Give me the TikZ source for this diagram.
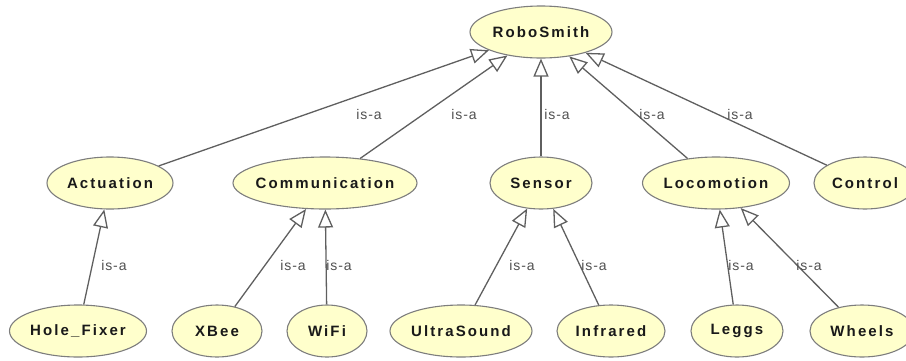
\documentclass[tikz,border=0pt]{standalone}
\usepackage{fontspec}
\setmainfont{Liberation Sans}
\newfontfamily\classfont[LetterSpace=14]{Liberation Sans Bold}
\newfontfamily\relfont[LetterSpace=6]{Liberation Sans}
\usetikzlibrary{shapes.geometric,arrows.meta}
\definecolor{classfill}{RGB}{255,255,204}
\definecolor{classline}{RGB}{125,125,125}
\definecolor{edgeline}{RGB}{95,95,95}
\definecolor{reltext}{RGB}{80,80,80}
\tikzset{
  cls/.style={ellipse, draw=classline, fill=classfill, line width=1.1pt,
    inner sep=0pt, minimum height=52pt},
  ctext/.style={font=\classfont\fontsize{15}{16}\selectfont, text=black!90},
  isa/.style={draw=edgeline, line width=1.3pt,
    -{Triangle[open, length=18pt, width=15pt, line width=1.3pt]}},
  rel/.style={font=\relfont\fontsize{14}{15}\selectfont, text=reltext, inner sep=0pt}
}
\begin{document}
\begin{tikzpicture}[x=1pt, y=-1pt]
\useasboundingbox (0,0) rectangle (906,360);
\begin{scope}
\clip (0,0) rectangle (906,360);
% classes
\node[cls, minimum width=142pt, label={[ctext]center:RoboSmith}] (robo) at (541,32) {};
\node[cls, minimum width=126pt, label={[ctext]center:Actuation}] (act) at (110,183) {};
\node[cls, minimum width=184pt, label={[ctext]center:Communication}] (comm) at (325,183) {};
\node[cls, minimum width=102pt, label={[ctext]center:Sensor}] (sens) at (541,183) {};
\node[cls, minimum width=147pt, label={[ctext]center:Locomotion}] (loco) at (716,183) {};
\node[cls, minimum width=102pt, label={[ctext]center:Control}] (ctrl) at (865,183) {};
\node[cls, minimum width=137pt, label={[ctext]center:Hole\_Fixer}] (hole) at (78,331) {};
\node[cls, minimum width=90pt, label={[ctext]center:XBee}] (xbee) at (217,331) {};
\node[cls, minimum width=80pt, label={[ctext]center:WiFi}] (wifi) at (327,331) {};
\node[cls, minimum width=142pt, label={[ctext]center:UltraSound}] (ultra) at (461,331) {};
\node[cls, minimum width=108pt, label={[ctext]center:Infrared}] (infra) at (611,331) {};
\node[cls, minimum width=92pt, label={[ctext]center:Leggs}] (leggs) at (737,331) {};
\node[cls, minimum width=104pt, label={[ctext]center:Wheels}] (wheels) at (862,331) {};
% subclass links
\draw[isa] (act) -- (robo);
\draw[isa] (comm) -- (robo);
\draw[isa] (sens) -- (robo);
\draw[isa] (loco) -- (robo);
\draw[isa] (ctrl) -- (robo);
\draw[isa] (hole) -- (act);
\draw[isa] (xbee) -- (comm);
\draw[isa] (wifi) -- (comm);
\draw[isa] (ultra) -- (sens);
\draw[isa] (infra) -- (sens);
\draw[isa] (leggs) -- (loco);
\draw[isa] (wheels) -- (loco);
% link labels
\node[rel] (r1) at (369,114) {is-a};
\node[rel] (r2) at (464,114) {is-a};
\node[rel] (r3) at (557,114) {is-a};
\node[rel] (r4) at (652,114) {is-a};
\node[rel] (r5) at (740,114) {is-a};
\node[rel] (r6) at (114,265) {is-a};
\node[rel] (r7) at (293,265) {is-a};
\node[rel] (r8) at (339,265) {is-a};
\node[rel] (r9) at (522,265) {is-a};
\node[rel] (r10) at (594,265) {is-a};
\node[rel] (r11) at (741,265) {is-a};
\node[rel] (r12) at (809,265) {is-a};
\end{scope}
\end{tikzpicture}
\end{document}
